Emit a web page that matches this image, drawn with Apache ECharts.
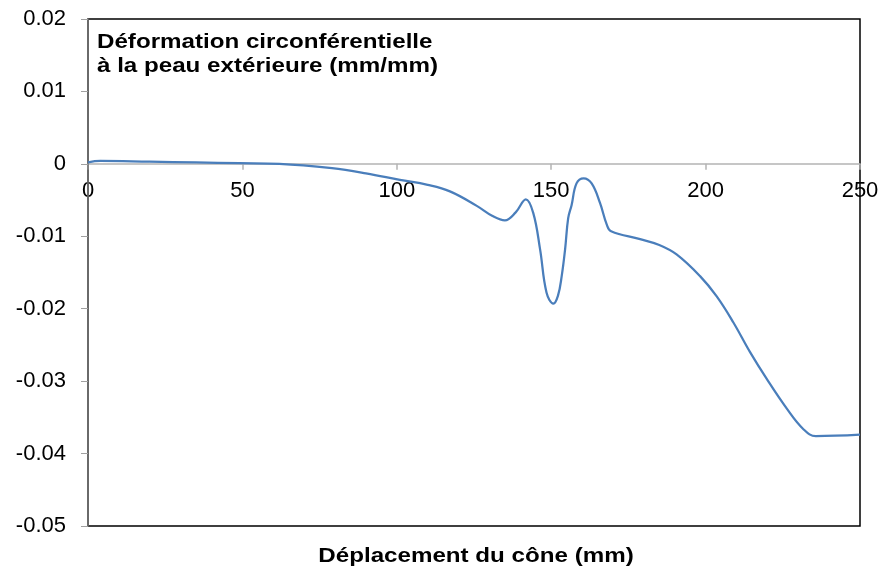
<!DOCTYPE html>
<html>
<head>
<meta charset="utf-8">
<script src="https://cdn.jsdelivr.net/npm/echarts@6/dist/echarts.min.js"></script>
<style>
  html, body { margin: 0; padding: 0; background: #fff; }
  #chart { width: 882px; height: 569px; }
</style>
</head>
<body>
<div id="chart"></div>
<script>
// Cone displacement (mm)
var displacement = [0, 4, 20, 35, 49, 62, 79, 90, 101, 110, 117.2, 125.9, 131, 135, 138.5,
  141.8, 144.2, 146.4, 148.5, 150.7, 152.2, 153.4, 154.5, 155.5, 156.6, 158.2, 160.5,
  163.1, 165.8, 168, 169.4, 178.8, 185, 190.6, 198.2, 203.6, 209, 214.4, 219.8, 226.3,
  231.6, 235.7, 250];
// Hoop strain at the outer skin (mm/mm)
var strain = [0.0002, 0.0004, 0.0003, 0.0002, 0.0001, 0.0000, -0.0006, -0.0013, -0.0022,
  -0.0029, -0.0038, -0.0058, -0.0072, -0.0078, -0.0067,
  -0.0049, -0.0068, -0.0118, -0.0178, -0.0193, -0.0182, -0.0155, -0.0118, -0.0075,
  -0.0057, -0.0027, -0.0020, -0.0027, -0.0054, -0.0084, -0.0093, -0.0104, -0.0112,
  -0.0125, -0.0155, -0.0183, -0.0219, -0.0260, -0.0297, -0.0338, -0.0366, -0.0376,
  -0.0374];

var xTickLabels = ['0', '50', '100', '150', '200', '250'];
var yTickLabels = ['-0.05', '-0.04', '-0.03', '-0.02', '-0.01', '0', '0.01', '0.02'];
var titleLines = ['Déformation circonférentielle', 'à la peau extérieure (mm/mm)'];
var xTitle = 'Déplacement du cône (mm)';

var X_MIN = 0, X_MAX = 250, X_STEP = 50;
var Y_MIN = -0.05, Y_MAX = 0.02, Y_STEP = 0.01;

var GRID = { left: 88, top: 19, right: 22, bottom: 43 };
var plotHeight = 569 - GRID.top - GRID.bottom;
// the horizontal axis sits on the zero line: lift it from the bottom edge
var zeroLift = plotHeight * (0 - Y_MIN) / (Y_MAX - Y_MIN);

var points = displacement.map(function (x, i) { return [x, strain[i]]; });

var chart = echarts.init(document.getElementById('chart'), null, { renderer: 'canvas' });
var FONT = '"Liberation Sans", Arial, sans-serif';

chart.setOption({
  animation: false,
  backgroundColor: '#ffffff',
  grid: {
    left: GRID.left, top: GRID.top, right: GRID.right, bottom: GRID.bottom,
    show: true, borderColor: '#000000', borderWidth: 1.5, backgroundColor: 'transparent',
    z: 0
  },
  xAxis: {
    type: 'value', min: X_MIN, max: X_MAX, interval: X_STEP,
    position: 'bottom', offset: -zeroLift, z: 3,
    axisLine: { onZero: false, lineStyle: { color: '#b4b4b4', width: 1.5 } },
    axisTick: { show: true, length: 6, lineStyle: { color: '#b4b4b4', width: 1.5 } },
    splitLine: { show: false },
    axisLabel: {
      color: '#000', fontSize: 22, fontFamily: FONT, margin: 16,
      showMinLabel: true, showMaxLabel: true,
      formatter: function (v) { return xTickLabels[Math.round((v - X_MIN) / X_STEP)]; }
    }
  },
  yAxis: {
    type: 'value', min: Y_MIN, max: Y_MAX, interval: Y_STEP, z: 4,
    axisLine: { show: true, onZero: false, lineStyle: { color: '#7a7a7a', width: 1.5 } },
    axisTick: { show: true, length: 7, lineStyle: { color: '#a0a0a0', width: 1 } },
    splitLine: { show: false },
    axisLabel: {
      color: '#000', fontSize: 22, fontFamily: FONT, margin: 22,
      formatter: function (v) { return yTickLabels[Math.round((v - Y_MIN) / Y_STEP)]; }
    }
  },
  graphic: [
    {
      type: 'text', x: 97, y: 30, scaleX: 1.15, z: 10,
      style: {
        text: titleLines.join('\n'), fill: '#000',
        font: 'bold 21px ' + FONT, lineHeight: 24
      }
    },
    {
      type: 'text', x: 476, y: 546, scaleX: 1.15, z: 10,
      style: { text: xTitle, fill: '#000', font: 'bold 21px ' + FONT, align: 'center' }
    }
  ],
  series: [{
    type: 'line',
    data: points,
    smooth: 0.4,
    showSymbol: false,
    z: 5,
    lineStyle: { color: '#4a7ebb', width: 2.25 },
    itemStyle: { color: '#4a7ebb' }
  }]
});
</script>
</body>
</html>
